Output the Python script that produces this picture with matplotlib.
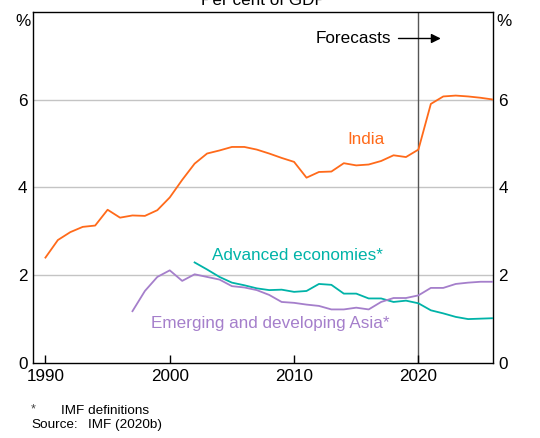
import matplotlib.pyplot as plt

plt.rcParams['font.family'] = ['Liberation Sans', 'DejaVu Sans']

# India, 1990-2026
india_years = list(range(1990, 2027))
india = [2.40, 2.80, 2.98, 3.10, 3.13, 3.49, 3.31, 3.36, 3.35, 3.48,
         3.77, 4.17, 4.54, 4.77, 4.84, 4.92, 4.92, 4.86, 4.77, 4.67,
         4.58, 4.22, 4.35, 4.36, 4.55, 4.50, 4.52, 4.60, 4.73, 4.69,
         4.86, 5.90, 6.07, 6.09, 6.07, 6.04, 6.00]

# Advanced economies, 2002-2026
adv_years = list(range(2002, 2027))
advanced = [2.29, 2.13, 1.96, 1.83, 1.77, 1.70, 1.66, 1.67, 1.62, 1.64,
            1.80, 1.78, 1.58, 1.58, 1.47, 1.47, 1.39, 1.42, 1.36, 1.20,
            1.13, 1.05, 1.00, 1.01, 1.02]

# Emerging and developing Asia, 1997-2026
asia_years = list(range(1997, 2027))
asia = [1.18, 1.64, 1.96, 2.11, 1.87, 2.02, 1.96, 1.90, 1.75, 1.72,
        1.66, 1.55, 1.39, 1.37, 1.33, 1.30, 1.22, 1.22, 1.26, 1.22,
        1.39, 1.48, 1.48, 1.54, 1.71, 1.71, 1.80, 1.83, 1.85, 1.85]

xticks = [1990, 2000, 2010, 2020]
yticks = [0, 2, 4, 6]

c_india = '#FF6A1A'
c_adv = '#00B3A8'
c_asia = '#A57FCB'
fs = 12.3

fig = plt.figure(figsize=(5.4, 4.38), dpi=100)
ax = fig.add_axes([33/540, 1 - 363/438, 460/540, 351.3/438])

ax.set_xlim(1989, 2026)
ax.set_ylim(0, 8)
for v in yticks[1:]:
    ax.axhline(v, color='#c4c4c4', lw=1, zorder=0)
ax.axvline(2020, color='#555555', lw=1, zorder=1)

ax.plot(india_years, india, color=c_india, lw=1.3, zorder=3)
ax.plot(adv_years, advanced, color=c_adv, lw=1.3, zorder=3)
ax.plot(asia_years, asia, color=c_asia, lw=1.3, zorder=3)

ax.text(2015.8, 5.09, 'India', color=c_india, fontsize=fs, ha='center', va='center')
ax.text(2010.3, 2.45, 'Advanced economies*', color=c_adv, fontsize=fs, ha='center', va='center')
ax.text(2008.1, 0.90, 'Emerging and developing Asia*', color=c_asia, fontsize=fs,
        ha='center', va='center')

# forecast marker
ax.text(2017.8, 7.39, 'Forecasts', fontsize=fs, ha='right', va='center')
ax.annotate('', xy=(2021.8, 7.39), xytext=(2018.4, 7.39),
            arrowprops=dict(arrowstyle='-|>', color='black', lw=1, mutation_scale=14,
                            shrinkA=0, shrinkB=0))

ax.set_xticks(xticks)
ax.set_xticklabels([str(x) for x in xticks], fontsize=fs)
ax.tick_params(axis='x', direction='in', length=6, width=1, pad=4)
ax.set_yticks(yticks)
ax.set_yticklabels([str(y) for y in yticks], fontsize=fs)
ax.tick_params(axis='y', length=0, pad=4, labelleft=True, labelright=True)

for s in ax.spines.values():
    s.set_linewidth(1)
    s.set_color('black')

fig.text(22.5/540, 1 - 21/438, '%', fontsize=fs, ha='center', va='center')
fig.text(504/540, 1 - 21/438, '%', fontsize=fs, ha='center', va='center')
fig.text(263/540, 1 - 5/438, 'Per cent of GDP', fontsize=fs, ha='center', va='baseline')

fig.text(31/540, 1 - 409/438, '*', fontsize=9, ha='left', va='center', color='#444444')
fig.text(61/540, 1 - 411/438, 'IMF definitions', fontsize=9.7, ha='left', va='center')
fig.text(31/540, 1 - 425/438, 'Source:', fontsize=9.7, ha='left', va='center')
fig.text(88/540, 1 - 425/438, 'IMF (2020b)', fontsize=9.7, ha='left', va='center')

fig.savefig('out.png', dpi=100)
